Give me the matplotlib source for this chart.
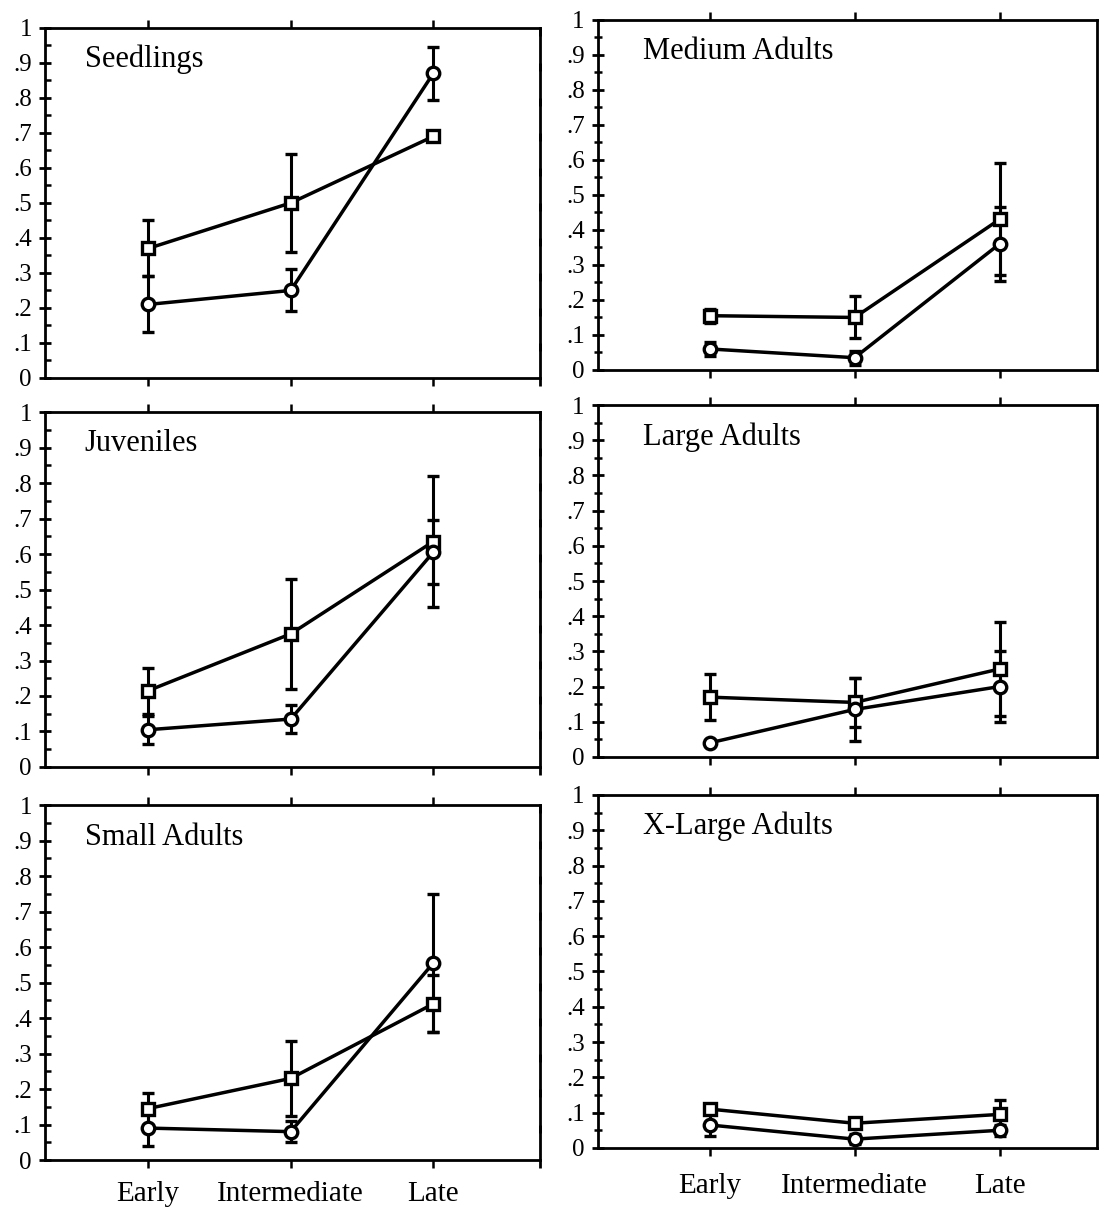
import numpy as np
import matplotlib.pyplot as plt
from matplotlib.ticker import MultipleLocator, FixedLocator

plt.rcParams['font.family'] = ['Liberation Serif', 'DejaVu Serif']

stages = ['Early', 'Intermediate', 'Late']
xpos = [1, 2, 3]

panel_names = ['Seedlings', 'Medium Adults', 'Juveniles', 'Large Adults',
               'Small Adults', 'X-Large Adults']

# square series (mean, error) per panel
sq_seedlings = [0.37, 0.50, 0.69]
sq_seedlings_err = [0.08, 0.14, 0.01]
sq_medium = [0.155, 0.15, 0.43]
sq_medium_err = [0.02, 0.06, 0.16]
sq_juveniles = [0.215, 0.375, 0.635]
sq_juveniles_err = [0.065, 0.155, 0.185]
sq_large = [0.17, 0.155, 0.25]
sq_large_err = [0.065, 0.07, 0.135]
sq_small = [0.145, 0.23, 0.44]
sq_small_err = [0.045, 0.105, 0.08]
sq_xlarge = [0.11, 0.07, 0.095]
sq_xlarge_err = [0.015, 0.01, 0.04]

# circle series
ci_seedlings = [0.21, 0.25, 0.87]
ci_seedlings_err = [0.08, 0.06, 0.075]
ci_medium = [0.06, 0.035, 0.36]
ci_medium_err = [0.02, 0.02, 0.105]
ci_juveniles = [0.105, 0.135, 0.605]
ci_juveniles_err = [0.04, 0.04, 0.09]
ci_large = [0.04, 0.135, 0.20]
ci_large_err = [0.005, 0.09, 0.10]
ci_small = [0.09, 0.08, 0.555]
ci_small_err = [0.05, 0.03, 0.195]
ci_xlarge = [0.065, 0.025, 0.05]
ci_xlarge_err = [0.03, 0.015, 0.015]

squares = [(sq_seedlings, sq_seedlings_err), (sq_medium, sq_medium_err),
           (sq_juveniles, sq_juveniles_err), (sq_large, sq_large_err),
           (sq_small, sq_small_err), (sq_xlarge, sq_xlarge_err)]
circles = [(ci_seedlings, ci_seedlings_err), (ci_medium, ci_medium_err),
           (ci_juveniles, ci_juveniles_err), (ci_large, ci_large_err),
           (ci_small, ci_small_err), (ci_xlarge, ci_xlarge_err)]

ytick_vals = [0, .1, .2, .3, .4, .5, .6, .7, .8, .9, 1]
ytick_labels = ['0', '.1', '.2', '.3', '.4', '.5', '.6', '.7', '.8', '.9', '1']

fig = plt.figure(figsize=(11.01, 12.09), dpi=100)

# [left, bottom, width, height] in figure fraction
boxes = [
    [0.041, 0.6874, 0.4496, 0.2895],
    [0.543, 0.6940, 0.4530, 0.2895],
    [0.041, 0.3656, 0.4496, 0.2936],
    [0.543, 0.3739, 0.4530, 0.2910],
    [0.041, 0.0405, 0.4496, 0.2936],
    [0.543, 0.0505, 0.4530, 0.2920],
]

for i in range(6):
    ax = fig.add_axes(boxes[i])
    left_col = (i % 2 == 0)
    bottom_row = (i >= 4)

    for (vals, errs), mk, ms in ((squares[i], 's', 8.5), (circles[i], 'o', 9)):
        ax.errorbar(xpos, vals, yerr=errs, color='black', lw=2.5,
                    marker=mk, markersize=ms, markerfacecolor='white',
                    markeredgewidth=2.4, ecolor='black', elinewidth=2.2,
                    capsize=4.5, capthick=2.4, zorder=3)

    ax.set_ylim(0, 1)
    if left_col:
        ax.set_xlim(0.277, 3.75)
    else:
        ax.set_xlim(0.228, 3.67)

    for sp in ax.spines.values():
        sp.set_linewidth(2.0)

    ax.yaxis.set_major_locator(FixedLocator(ytick_vals))
    ax.set_yticklabels(ytick_labels)
    ax.yaxis.set_minor_locator(MultipleLocator(0.05))
    if left_col:
        ax.tick_params(axis='y', which='major', direction='inout', length=9,
                       width=2.0, labelsize=18, pad=5, right=True)
        ax.tick_params(axis='y', which='minor', direction='in', length=4,
                       width=1.8, right=False)
        # right-hand ticks point outward into the gap between columns
        for t in ax.yaxis.get_major_ticks():
            t.tick2line.set_marker(3)  # TICKRIGHT
            t.tick2line.set_markersize(6)
    else:
        ax.tick_params(axis='y', which='major', direction='inout', length=9,
                       width=2.0, labelsize=18, pad=5, right=False)
        ax.tick_params(axis='y', which='minor', direction='inout', length=6,
                       width=1.8, right=False)

    ax.set_xticks(xpos)
    ax.tick_params(axis='x', direction='out', length=6, width=1.8, top=True,
                   labelsize=21, pad=9 if left_col else 12)
    if bottom_row:
        ax.set_xticklabels(stages)
    else:
        ax.set_xticklabels([])

    ax.text(0.08 if left_col else 0.09, 0.91, panel_names[i],
            transform=ax.transAxes, fontsize=22, ha='left', va='center')

plt.savefig('out.png', dpi=100)
